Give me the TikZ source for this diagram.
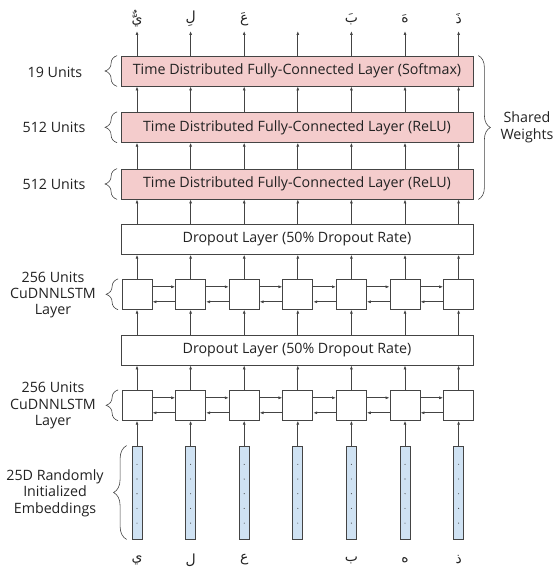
\documentclass[tikz,border=0pt]{standalone}
\usepackage{fontspec}
\setmainfont{Open Sans}
\newfontfamily\arabicfont[Script=Arabic]{DejaVu Sans}
\TeXXeTstate=1
\usetikzlibrary{arrows.meta,decorations.pathreplacing,calc}
\definecolor{fcpink}{HTML}{F4CCCC}
\definecolor{embblue}{HTML}{CFE2F3}
\definecolor{edgec}{HTML}{444444}
\definecolor{textc}{HTML}{222222}
\begin{document}
\begin{tikzpicture}[x=1bp,y=-1bp,
  font=\fontsize{14.3}{16.5}\selectfont, text=textc,
  wide/.style={draw=edgec, minimum width=352bp, minimum height=30bp, inner sep=0pt, line width=0.8bp},
  fc/.style={wide, fill=fcpink},
  drop/.style={wide, fill=white},
  cell/.style={draw=edgec, fill=white, minimum width=30bp, minimum height=30bp, inner sep=0pt, line width=0.8bp},
  emb/.style={draw=edgec, fill=embblue, minimum width=10bp, minimum height=93bp, inner sep=0pt, line width=0.8bp},
  arr/.style={draw=edgec, line width=0.75bp, -{Latex[length=4bp,width=3bp]}},
  brc/.style={draw=edgec, line width=0.6bp, decorate, decoration={brace, amplitude=#1}},
  lab/.style={align=center},
  ar/.style={font=\arabicfont\fontsize{14}{16}\selectfont}
]
\useasboundingbox (0,0) rectangle (555,569);

% wide layers
\node[fc] (fc3) at (297,71) {Time Distributed Fully-Connected Layer (Softmax)};
\node[fc] (fc2) at (297,127.3) {Time Distributed Fully-Connected Layer (ReLU)};
\node[fc] (fc1) at (297,184) {Time Distributed Fully-Connected Layer (ReLU)};
\node[drop] (d2) at (297,239.3) {Dropout Layer (50\% Dropout Rate)};
\node[drop] (d1) at (297,350) {Dropout Layer (50\% Dropout Rate)};

% columns
\foreach \i/\x in {1/137,2/190.6,3/244.2,4/297.8,5/351.4,6/405,7/458.6}{
  \node[cell] (lb\i) at (\x,405.3) {};
  \node[cell] (lt\i) at (\x,294.3) {};
  \node[emb] (e\i) at (\x,492.5) {};
  \foreach \dy in {-28.2,-13.5,1.2,15.9,30.6}{
    \fill[edgec] ($(e\i.center)+(0,\dy)$) circle (0.55bp);
  }
  \coordinate (top\i) at (\x,31);
  \draw[arr] (e\i.north) -- (lb\i.south);
  \draw[arr] (lb\i.north) -- (d1.south -| lb\i);
  \draw[arr] (d1.north -| lt\i) -- (lt\i.south);
  \draw[arr] (lt\i.north) -- (d2.south -| lt\i);
  \draw[arr] (d2.north -| lt\i) -- (fc1.south -| lt\i);
  \draw[arr] (fc1.north -| lt\i) -- (fc2.south -| lt\i);
  \draw[arr] (fc2.north -| lt\i) -- (fc3.south -| lt\i);
  \draw[arr] (fc3.north -| lt\i) -- (top\i);
}

% recurrent connections
\foreach \i in {1,...,6}{
  \pgfmathtruncatemacro\j{\i+1}
  \foreach \r in {lb,lt}{
    \draw[arr] ([yshift=7.5bp]\r\i.east) -- ([yshift=7.5bp]\r\j.west);
    \draw[arr] ([yshift=-7.5bp]\r\j.west) -- ([yshift=-7.5bp]\r\i.east);
  }
}

% output letters
\foreach \i/\t in {1/يٌّ,2/لِ,3/عَ,5/بَ,6/هَ,7/ذَ}{
  \node[ar] (o\i) at ($(top\i)+(0,-12)$) {\beginR\t\endR};
}
% input letters
\foreach \i/\t in {1/ي,2/ل,3/ع,5/ب,6/ه,7/ذ}{
  \node[ar] (in\i) at ($(e\i.center)+(0,67.5)$) {\beginR\t\endR};
}

% braces and side labels
\draw[brc=12bp] ([xshift=-3.5bp]fc3.south west) -- ([xshift=-3.5bp]fc3.north west);
\draw[brc=12bp] ([xshift=-3.5bp]fc2.south west) -- ([xshift=-3.5bp]fc2.north west);
\draw[brc=12bp] ([xshift=-3.5bp]fc1.south west) -- ([xshift=-3.5bp]fc1.north west);
\draw[brc=12bp] ([xshift=-3.5bp]lt1.south west) -- ([xshift=-3.5bp]lt1.north west);
\draw[brc=12bp] ([xshift=-3.5bp]lb1.south west) -- ([xshift=-3.5bp]lb1.north west);
\draw[brc=13bp] ([xshift=-5bp]e1.south west) -- ([xshift=-5bp]e1.north west);
\draw[brc=12bp] ([xshift=5bp]fc3.north east) -- ([xshift=5bp]fc1.south east);

\node[lab] (u19) at (55,72) {19 Units};
\node[lab] (u512a) at (54,127.5) {512 Units};
\node[lab] (u512b) at (54,184) {512 Units};
\node[lab] (ltl) at (53,295) {256 Units\\CuDNNLSTM\\Layer};
\node[lab] (lbl) at (53,405.5) {256 Units\\CuDNNLSTM\\Layer};
\node[lab] (embl) at (55,493) {25D Randomly\\Initialized\\Embeddings};
\node[lab] (sw) at (527,127.5) {Shared\\Weights};
\end{tikzpicture}
\end{document}
